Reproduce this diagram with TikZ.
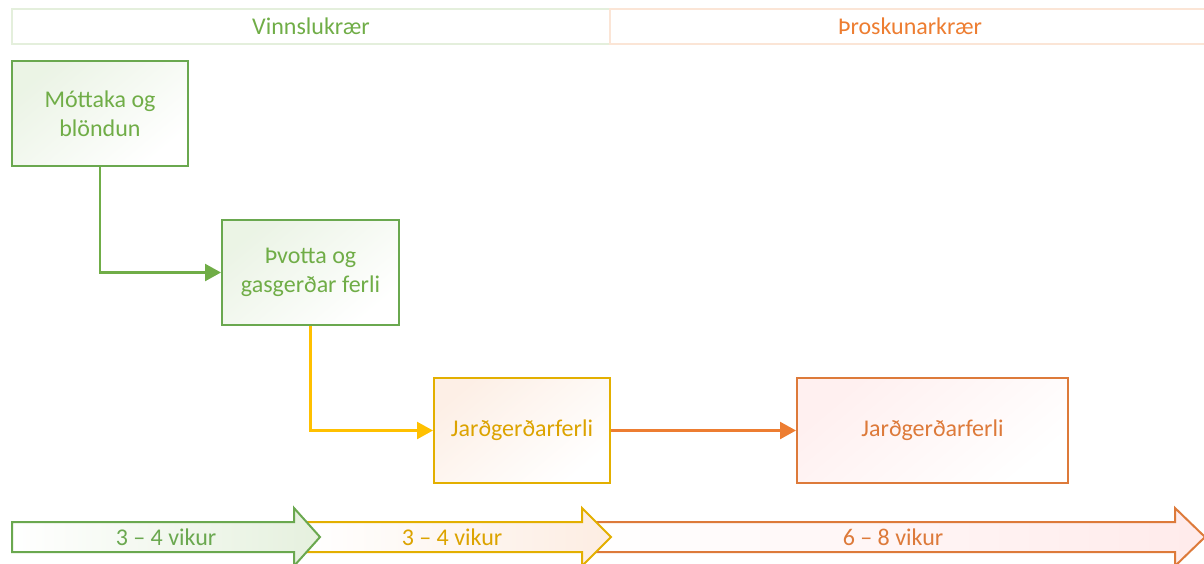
\documentclass[tikz,border=0pt]{standalone}
\usepackage{fontspec}
\setmainfont{Carlito}
\usetikzlibrary{arrows.meta}
\definecolor{grn}{HTML}{70AD47}
\definecolor{grnd}{HTML}{6AA84F}
\definecolor{gold}{HTML}{FFC000}
\definecolor{goldd}{HTML}{E3AF00}
\definecolor{goldt}{HTML}{DCA300}
\definecolor{org}{HTML}{ED7D31}
\definecolor{orgd}{HTML}{DD7A3A}
\definecolor{hgrn}{HTML}{E4EFDC}
\definecolor{horg}{HTML}{FBE5D6}
\tikzset{
  procbox/.style={draw=#1, line width=2pt, minimum height=105pt, align=center,
    font=\fontsize{24}{29}\selectfont, inner sep=0pt},
  hdr/.style={draw=#1, line width=2pt, minimum height=35pt, inner sep=0pt, font=\fontsize{24}{24}\selectfont},
  conn/.style={draw=#1, line width=2.4pt, -{Triangle[length=16pt,width=17pt]}},
  durlab/.style={font=\fontsize{24}{24}\selectfont, inner sep=0pt},
  bigarrow/.style={line width=2pt, line join=miter},
}
\begin{document}
\begin{tikzpicture}[x=1pt,y=-1pt]
\useasboundingbox (0,0) rectangle (1204,563);
% header
\node[hdr=hgrn, minimum width=598pt, text=grn] (h1) at (311,26) {Vinnslukrær};
\node[hdr=horg, minimum width=600pt, text=org] (h2) at (910,26) {Þroskunarkrær};
% boxes
\node[procbox=grnd, minimum width=176pt, text=grn, top color=grn!14, bottom color=white, shading angle=40] (b1) at (100,113.5) {Móttaka og\\blöndun};
\node[procbox=grnd, minimum width=177pt, text=grn, top color=grn!14, bottom color=white, shading angle=40] (b2) at (310.5,272.5) {Þvotta og\\gasgerðar ferli};
\node[procbox=goldd, minimum width=176pt, text=goldt, top color=org!12, bottom color=white, shading angle=40] (b3) at (522,430.5) {Jarðgerðarferli};
\node[procbox=orgd, minimum width=271pt, text=orgd, top color=red!6, bottom color=white, shading angle=40] (b4) at (932.5,430.5) {Jarðgerðarferli};
% connectors
\draw[conn=grn] (b1.south) |- (b2.west);
\draw[conn=gold] (b2.south) |- (b3.west);
\draw[conn=org] (b3.east) -- (b4.west);
% bottom arrows
\draw[bigarrow, draw=orgd, left color=white, right color=red!8] (595,522) -- (1175,522) -- (1175,508) -- (1205,537) -- (1175,566) -- (1175,552) -- (595,552) -- cycle;
\draw[bigarrow, draw=goldd, left color=white, right color=org!14] (305,522) -- (582,522) -- (582,508) -- (611,537) -- (582,566) -- (582,552) -- (305,552) -- cycle;
\draw[bigarrow, draw=grnd, left color=white, right color=grn!18] (12,522) -- (294,522) -- (294,508) -- (320,537) -- (294,566) -- (294,552) -- (12,552) -- cycle;
\node[durlab, text=grnd] (d1) at (166,537) {3 – 4 vikur};
\node[durlab, text=goldt] (d2) at (452,537) {3 – 4 vikur};
\node[durlab, text=orgd] (d3) at (893,537) {6 – 8 vikur};
\end{tikzpicture}
\end{document}
